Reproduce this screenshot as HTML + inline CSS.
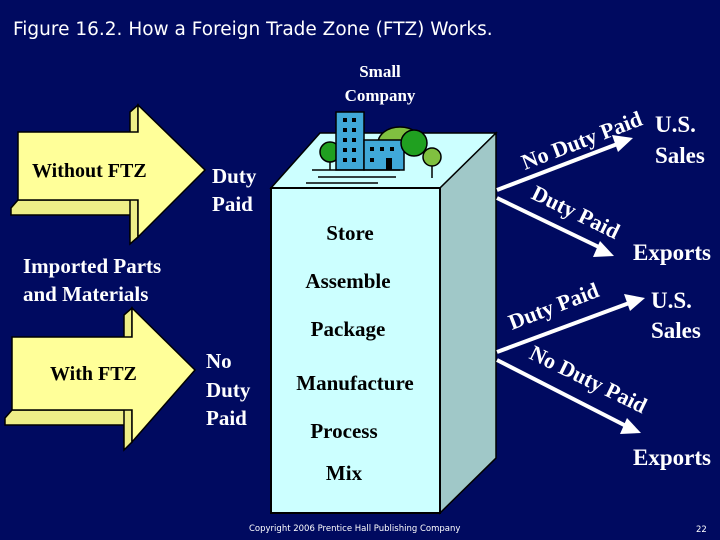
<!DOCTYPE html>
<html><head><style>
body{margin:0;background:#000a60;}
svg{display:block}
.t{font-family:"Liberation Serif",serif;font-weight:bold;}
</style></head><body>
<svg width="720" height="540" viewBox="0 0 720 540" xmlns="http://www.w3.org/2000/svg">
<rect width="720" height="540" fill="#000a60"/>
<text x="13" y="35" font-family="DejaVu Sans,sans-serif" font-size="18.5" fill="#fff">Figure 16.2.  How a Foreign Trade Zone (FTZ) Works.</text>
<g class="t" fill="#fff" font-size="17" text-anchor="middle">
<text x="380" y="77">Small</text><text x="380" y="101">Company</text></g>
<polygon points="271,188 320,133 496,133 440,188" fill="#ccffff" stroke="#000" stroke-width="1.5"/>
<polygon points="440,188 496,133 496,458 440,513" fill="#a0c8c8" stroke="#000" stroke-width="1.5"/>
<rect x="271" y="188" width="169" height="325" fill="#ccffff" stroke="#000" stroke-width="2"/>
<g stroke="#000" stroke-width="1.5">
<path d="M378,143 a22,16 0 0 1 44,0 z" fill="#80c040"/>
<circle cx="330" cy="152" r="10" fill="#20a020"/>
<line x1="330" y1="162" x2="330" y2="170"/>
<rect x="336" y="112" width="28" height="58" fill="#40a8d8"/>
<rect x="364" y="140" width="40" height="30" fill="#40a8d8"/>
<circle cx="414" cy="143" r="13" fill="#20a020"/>
<circle cx="432" cy="157" r="9" fill="#80c040"/>
<line x1="432" y1="166" x2="432" y2="178"/>
<line x1="312" y1="170" x2="400" y2="170"/>
<line x1="306" y1="183" x2="378" y2="183"/>
<line x1="318" y1="177" x2="396" y2="177"/>
</g>
<g fill="#000">
<rect x="343" y="118" width="4" height="4"/><rect x="352" y="118" width="4" height="4"/>
<rect x="343" y="128" width="4" height="4"/><rect x="352" y="128" width="4" height="4"/>
<rect x="343" y="138" width="4" height="4"/><rect x="352" y="138" width="4" height="4"/>
<rect x="343" y="148" width="4" height="4"/><rect x="352" y="148" width="4" height="4"/>
<rect x="343" y="158" width="4" height="4"/><rect x="352" y="158" width="4" height="4"/>
<rect x="370" y="147" width="4" height="4"/><rect x="380" y="147" width="4" height="4"/><rect x="390" y="147" width="4" height="4"/>
<rect x="370" y="158" width="4" height="4"/><rect x="386" y="158" width="6" height="12"/>
</g>
<g class="t" fill="#000" font-size="21" text-anchor="middle">
<text x="350" y="240">Store</text>
<text x="348" y="288">Assemble</text>
<text x="348" y="336">Package</text>
<text x="355" y="390">Manufacture</text>
<text x="344" y="438">Process</text>
<text x="344" y="480">Mix</text>
</g>
<g stroke="#000" stroke-width="1.5" fill="#ffff99">
<polygon points="11,208 18,200 138,200 138,237 130,237 130,215 11,215" fill="#eeee88"/>
<polygon points="130,112 138,105 138,237 130,244" fill="#eeee88"/>
<polygon points="18,132 138,132 138,105 205,170 138,237 138,200 18,200"/>
<polygon points="5,418 12,410 132,410 132,442 124,442 124,425 5,425" fill="#eeee88"/>
<polygon points="124,315 132,308 132,442 124,450" fill="#eeee88"/>
<polygon points="12,337 132,337 132,308 195,370 132,442 132,410 12,410"/>
</g>
<g class="t" font-size="20" fill="#000">
<text x="32" y="177">Without FTZ</text>
<text x="50" y="380">With FTZ</text>
</g>
<g class="t" font-size="21" fill="#fff">
<text x="212" y="183">Duty</text><text x="212" y="211">Paid</text>
<text x="23" y="273">Imported Parts</text><text x="23" y="301">and Materials</text>
<text x="206" y="368">No</text><text x="206" y="397">Duty</text><text x="206" y="425">Paid</text>
</g>
<g class="t" font-size="23" fill="#fff">
<text x="655" y="132">U.S.</text><text x="655" y="163">Sales</text>
<text x="633" y="260">Exports</text>
<text x="651" y="308">U.S.</text><text x="651" y="338">Sales</text>
<text x="633" y="465">Exports</text>
</g>
<g stroke="#fff" stroke-width="4" fill="#fff">
<line x1="497" y1="190" x2="620" y2="143"/>
<polygon points="633,138 612,135 618,152" stroke="none"/>
<line x1="497" y1="198" x2="605" y2="250"/>
<polygon points="614,256 600,241 593,257" stroke="none"/>
<line x1="497" y1="352" x2="632" y2="302"/>
<polygon points="645,298 624,294 630,311" stroke="none"/>
<line x1="497" y1="360" x2="630" y2="428"/>
<polygon points="641,433 627,418 620,434" stroke="none"/>
</g>
<g class="t" font-size="22" fill="#fff">
<text transform="translate(525,170) rotate(-21)">No Duty Paid</text>
<text transform="translate(530,198) rotate(26)">Duty Paid</text>
<text transform="translate(512,330) rotate(-21)">Duty Paid</text>
<text transform="translate(528,358) rotate(26)">No Duty Paid</text>
</g>
<text x="249" y="531" font-family="DejaVu Sans,sans-serif" font-size="8.5" fill="#fff">Copyright 2006 Prentice Hall Publishing Company</text>
<text x="696" y="532" font-family="DejaVu Sans,sans-serif" font-size="8.5" fill="#fff">22</text>
</svg>
</body></html>
